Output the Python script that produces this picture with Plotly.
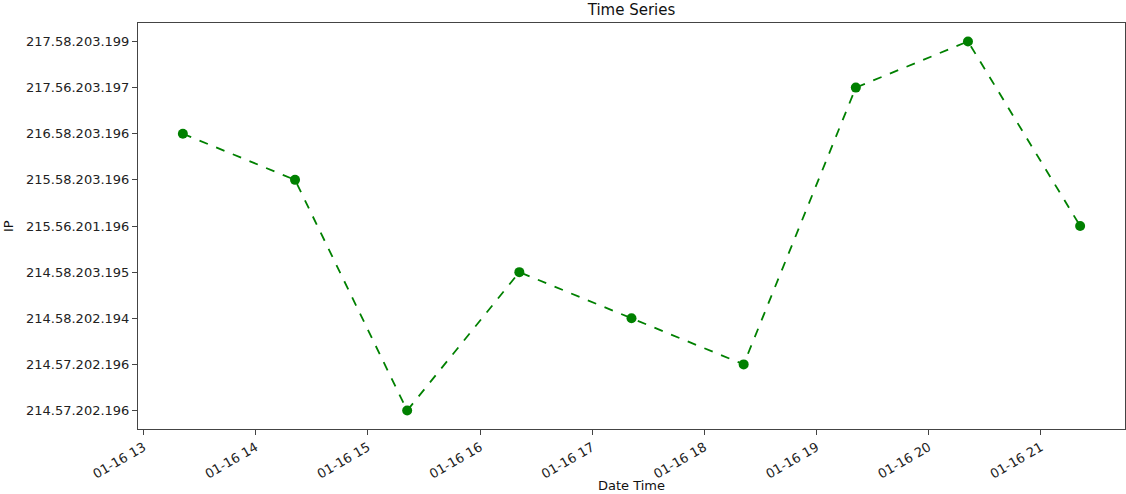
import plotly.graph_objects as go

# Data
times = ["2019-01-16 13:21", "2019-01-16 14:21", "2019-01-16 15:21",
         "2019-01-16 16:21", "2019-01-16 17:21", "2019-01-16 18:21",
         "2019-01-16 19:21", "2019-01-16 20:21", "2019-01-16 21:21"]
ip_labels = ["214.57.202.196", "214.57.202.196", "214.58.202.194",
             "214.58.203.195", "215.56.201.196", "215.58.203.196",
             "216.58.203.196", "217.56.203.197", "217.58.203.199"]
ip_index = [6, 5, 0, 3, 2, 1, 7, 8, 4]
x_ticks = ["2019-01-16 %02d:00" % h for h in range(13, 22)]

font = "DejaVu Sans"
fig = go.Figure()
fig.add_trace(go.Scatter(
    x=times, y=ip_index, mode="lines+markers",
    line=dict(color="#008000", width=1.8, dash="dash"),
    marker=dict(color="#008000", size=10),
    showlegend=False,
))

axis_common = dict(showline=True, linecolor="#444444", linewidth=1, mirror=True,
                   ticks="outside", ticklen=5, tickcolor="#444444", showgrid=False,
                   zeroline=False, automargin=False,
                   tickfont=dict(family=font, size=13, color="#222222"))

L, R, T, B = 138, 1, 23, 65
fig.update_layout(
    width=1126, height=494,
    margin=dict(l=L, r=R, t=T, b=B, autoexpand=False),
    plot_bgcolor="white", paper_bgcolor="white",
    title=dict(text="Time Series", x=0.5 * (L + 1126 - R) / 1126, xanchor="center",
               y=1 - 10 / 494, yanchor="middle",
               font=dict(family=font, size=15, color="#111111")),
    font=dict(family=font),
    annotations=[
        dict(text="Date Time", xref="paper", yref="paper", x=0.5, y=-(486 - 429) / (494 - T - B),
             xanchor="center", yanchor="middle", showarrow=False,
             font=dict(family=font, size=13, color="#111111")),
        dict(text="IP", xref="paper", yref="paper", x=-(L - 8) / (1126 - L - R), y=0.5,
             xanchor="center", yanchor="middle", showarrow=False, textangle=-90,
             font=dict(family=font, size=13, color="#111111")),
    ],
)
fig.update_xaxes(
    **axis_common,
    type="date",
    range=["2019-01-16 12:57", "2019-01-16 21:45"],
    tickvals=x_ticks, tickformat="%m-%d %H", tickangle=-30,
)
fig.update_yaxes(
    **axis_common,
    range=[-0.4, 8.4],
    tickvals=list(range(len(ip_labels))), ticktext=ip_labels,
)
fig.write_html("out.html", config={"displayModeBar": False},
               post_script="document.body.style.margin='0';document.body.style.overflow='hidden';")
